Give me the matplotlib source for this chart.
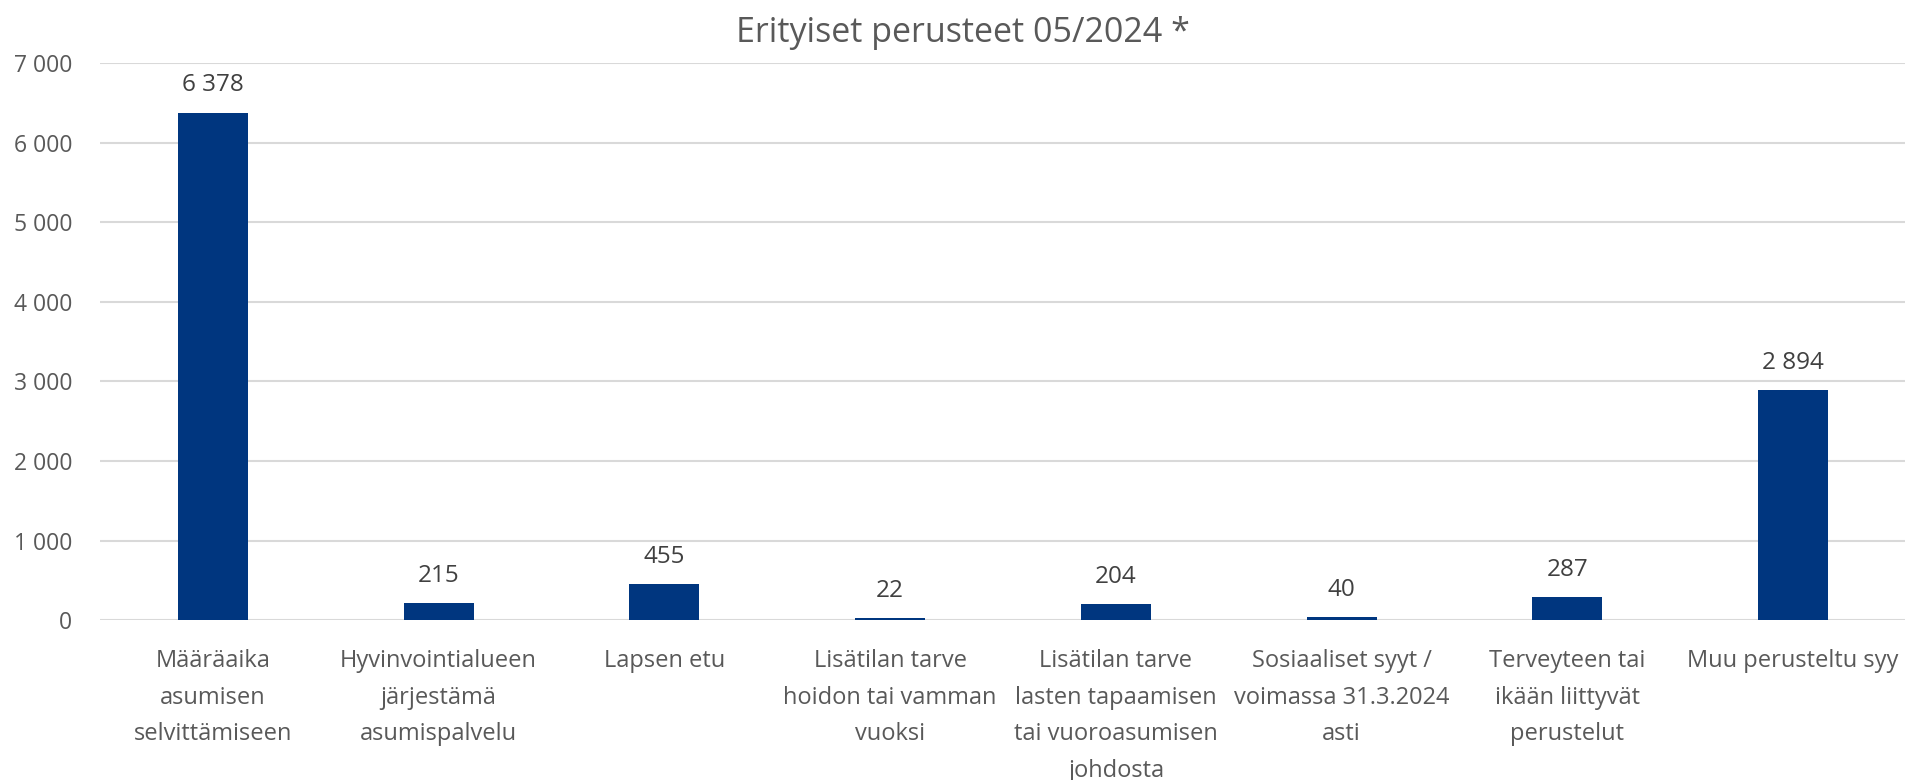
import numpy as np
import matplotlib.pyplot as plt

# data
categories = [
    "Määräaika\nasumisen\nselvittämiseen",
    "Hyvinvointialueen\njärjestämä\nasumispalvelu",
    "Lapsen etu",
    "Lisätilan tarve\nhoidon tai vamman\nvuoksi",
    "Lisätilan tarve\nlasten tapaamisen\ntai vuoroasumisen\njohdosta",
    "Sosiaaliset syyt /\nvoimassa 31.3.2024\nasti",
    "Terveyteen tai\nikään liittyvät\nperustelut",
    "Muu perusteltu syy",
]
values = [6378, 215, 455, 22, 204, 40, 287, 2894]
yticks = [0, 1000, 2000, 3000, 4000, 5000, 6000, 7000]
title = "Erityiset perusteet 05/2024 *"

plt.rcParams['font.family'] = ['Open Sans', 'DejaVu Sans']
txt_color = '#595959'
bar_color = '#00367f'


def fmt(v):
    return f"{v:,}".replace(",", " ")


fig = plt.figure(figsize=(19.06, 7.8), dpi=100)
ax = fig.add_axes([0.0525, 0.205, 0.9475, 0.714])

x = np.arange(len(categories))
bars = ax.bar(x, values, width=0.31, color=bar_color, zorder=3)
for b, v in zip(bars, values):
    ax.annotate(fmt(v), (b.get_x() + b.get_width() / 2, v), xytext=(0, 11),
                textcoords='offset points', ha='center', va='bottom',
                fontsize=17.5, color='#404040')

ax.set_xlim(-0.5, len(categories) - 0.5)
ax.set_ylim(0, 7000)
ax.set_yticks(yticks)
ax.set_yticklabels([fmt(t) for t in yticks], fontsize=16.5, color=txt_color)
ax.set_xticks(x)
ax.set_xticklabels(categories, fontsize=17, color=txt_color, linespacing=1.7, va='top')
ax.tick_params(axis='both', length=0)
ax.tick_params(axis='y', pad=20)
ax.tick_params(axis='x', pad=21)
ax.grid(axis='y', color='#d9d9d9', linewidth=1.5, zorder=0)
for s in ax.spines.values():
    s.set_visible(False)

fig.text(0.505, 0.946, title, ha='center', va='baseline', fontsize=24.5, color=txt_color)

fig.savefig('out.png', dpi=100)
